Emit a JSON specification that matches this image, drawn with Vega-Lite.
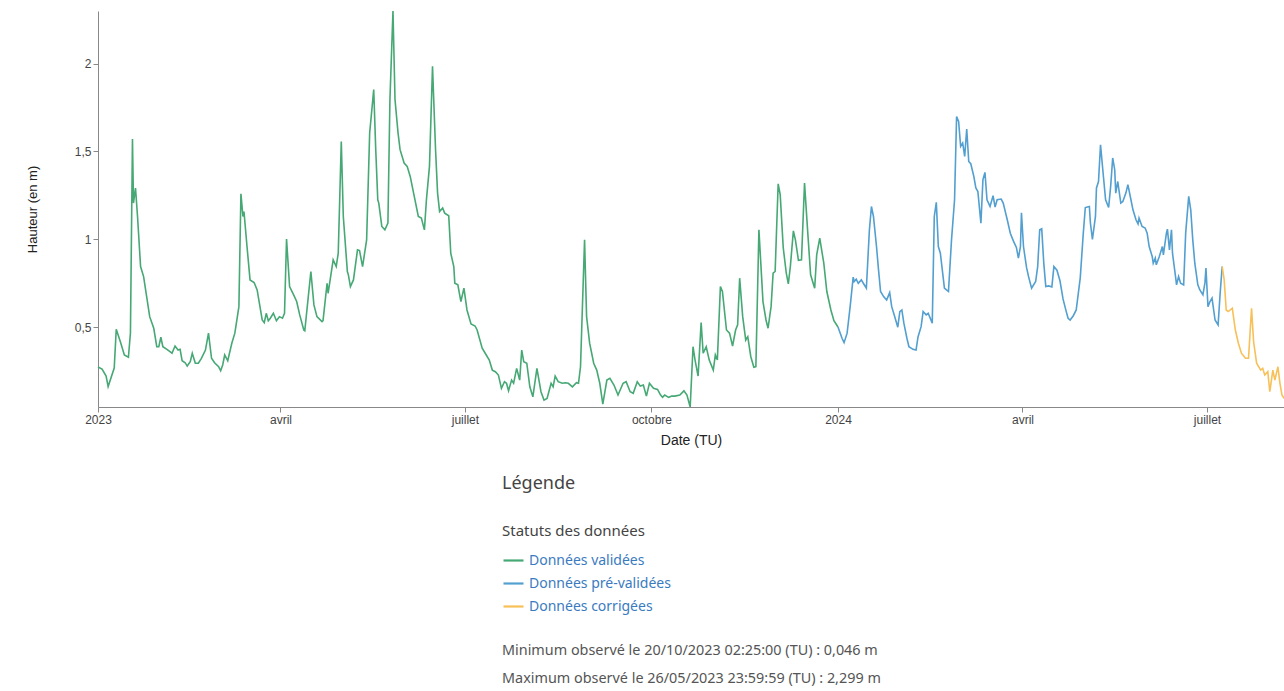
{
"$schema": "https://vega.github.io/schema/vega-lite/v6.json",
"width": 1186,
"height": 396,
"autosize": {"type": "none"},
"padding": {"left": 98, "top": 11, "right": 0, "bottom": 284},
"background": "white",
"config": {
  "locale": {
    "number": {"decimal": ",", "thousands": " ", "grouping": [3], "currency": ["", " €"]},
    "time": {
      "dateTime": "%A %e %B %Y à %X", "date": "%d/%m/%Y", "time": "%H:%M:%S", "periods": ["AM", "PM"],
      "days": ["dimanche","lundi","mardi","mercredi","jeudi","vendredi","samedi"],
      "shortDays": ["dim.","lun.","mar.","mer.","jeu.","ven.","sam."],
      "months": ["janvier","février","mars","avril","mai","juin","juillet","août","septembre","octobre","novembre","décembre"],
      "shortMonths": ["janv.","févr.","mars","avr.","mai","juin","juil.","août","sept.","oct.","nov.","déc."]
    }
  },
  "view": {"stroke": null},
  "axis": {"grid": false, "domainColor": "#888", "tickColor": "#888", "tickSize": 5, "labelFont": "Liberation Sans", "labelFontSize": 12, "labelColor": "#444", "titleFont": "Liberation Sans", "titleFontWeight": "normal", "titleColor": "#222"}
},
"title": {
  "text": "Légende",
  "subtitle": ["Minimum observé le 20/10/2023 02:25:00 (TU) : 0,046 m", "Maximum observé le 26/05/2023 23:59:59 (TU) : 2,299 m"],
  "orient": "bottom", "anchor": "start", "frame": "group", "dx": 404, "offset": -139,
  "font": "Noto Sans", "fontSize": 18, "fontWeight": "normal", "color": "#444",
  "subtitleFont": "Noto Sans", "subtitleFontSize": 14.4, "subtitleColor": "#555", "subtitleLineHeight": 28, "subtitlePadding": 151
},
"data": {"values": [
{"d":"2023-01-01T00:00","h":0.274,"s":"Données validées"},
{"d":"2023-01-03T00:00","h":0.262,"s":"Données validées"},
{"d":"2023-01-05T00:00","h":0.222,"s":"Données validées"},
{"d":"2023-01-06T00:00","h":0.162,"s":"Données validées"},
{"d":"2023-01-09T00:00","h":0.268,"s":"Données validées"},
{"d":"2023-01-10T00:00","h":0.488,"s":"Données validées"},
{"d":"2023-01-12T00:00","h":0.418,"s":"Données validées"},
{"d":"2023-01-14T00:00","h":0.342,"s":"Données validées"},
{"d":"2023-01-16T00:00","h":0.329,"s":"Données validées"},
{"d":"2023-01-17T00:00","h":0.467,"s":"Données validées"},
{"d":"2023-01-18T00:00","h":1.571,"s":"Données validées"},
{"d":"2023-01-18T12:00","h":1.206,"s":"Données validées"},
{"d":"2023-01-19T12:00","h":1.292,"s":"Données validées"},
{"d":"2023-01-20T12:00","h":1.130,"s":"Données validées"},
{"d":"2023-01-22T00:00","h":0.845,"s":"Données validées"},
{"d":"2023-01-23T12:00","h":0.788,"s":"Données validées"},
{"d":"2023-01-24T00:00","h":0.750,"s":"Données validées"},
{"d":"2023-01-25T00:00","h":0.674,"s":"Données validées"},
{"d":"2023-01-26T12:00","h":0.560,"s":"Données validées"},
{"d":"2023-01-28T12:00","h":0.494,"s":"Données validées"},
{"d":"2023-01-30T00:00","h":0.389,"s":"Données validées"},
{"d":"2023-01-31T00:00","h":0.389,"s":"Données validées"},
{"d":"2023-02-01T00:00","h":0.443,"s":"Données validées"},
{"d":"2023-02-02T00:00","h":0.389,"s":"Données validées"},
{"d":"2023-02-04T00:00","h":0.374,"s":"Données validées"},
{"d":"2023-02-05T12:00","h":0.361,"s":"Données validées"},
{"d":"2023-02-06T12:00","h":0.352,"s":"Données validées"},
{"d":"2023-02-08T00:00","h":0.393,"s":"Données validées"},
{"d":"2023-02-09T12:00","h":0.370,"s":"Données validées"},
{"d":"2023-02-10T12:00","h":0.374,"s":"Données validées"},
{"d":"2023-02-11T12:00","h":0.309,"s":"Données validées"},
{"d":"2023-02-13T00:00","h":0.298,"s":"Données validées"},
{"d":"2023-02-14T00:00","h":0.279,"s":"Données validées"},
{"d":"2023-02-15T12:00","h":0.304,"s":"Données validées"},
{"d":"2023-02-16T12:00","h":0.352,"s":"Données validées"},
{"d":"2023-02-18T00:00","h":0.295,"s":"Données validées"},
{"d":"2023-02-19T12:00","h":0.295,"s":"Données validées"},
{"d":"2023-02-21T00:00","h":0.323,"s":"Données validées"},
{"d":"2023-02-23T00:00","h":0.370,"s":"Données validées"},
{"d":"2023-02-24T12:00","h":0.466,"s":"Données validées"},
{"d":"2023-02-26T00:00","h":0.323,"s":"Données validées"},
{"d":"2023-02-27T12:00","h":0.298,"s":"Données validées"},
{"d":"2023-03-01T12:00","h":0.275,"s":"Données validées"},
{"d":"2023-03-02T12:00","h":0.252,"s":"Données validées"},
{"d":"2023-03-03T12:00","h":0.285,"s":"Données validées"},
{"d":"2023-03-04T12:00","h":0.342,"s":"Données validées"},
{"d":"2023-03-06T00:00","h":0.309,"s":"Données validées"},
{"d":"2023-03-08T00:00","h":0.409,"s":"Données validées"},
{"d":"2023-03-09T12:00","h":0.466,"s":"Données validées"},
{"d":"2023-03-11T12:00","h":0.617,"s":"Données validées"},
{"d":"2023-03-12T12:00","h":1.259,"s":"Données validées"},
{"d":"2023-03-13T12:00","h":1.130,"s":"Données validées"},
{"d":"2023-03-14T00:00","h":1.158,"s":"Données validées"},
{"d":"2023-03-15T12:00","h":0.959,"s":"Données validées"},
{"d":"2023-03-17T00:00","h":0.769,"s":"Données validées"},
{"d":"2023-03-19T00:00","h":0.754,"s":"Données validées"},
{"d":"2023-03-20T12:00","h":0.712,"s":"Données validées"},
{"d":"2023-03-23T00:00","h":0.541,"s":"Données validées"},
{"d":"2023-03-24T00:00","h":0.526,"s":"Données validées"},
{"d":"2023-03-25T00:00","h":0.579,"s":"Données validées"},
{"d":"2023-03-26T00:00","h":0.537,"s":"Données validées"},
{"d":"2023-03-27T00:00","h":0.551,"s":"Données validées"},
{"d":"2023-03-28T12:00","h":0.579,"s":"Données validées"},
{"d":"2023-03-30T00:00","h":0.537,"s":"Données validées"},
{"d":"2023-03-31T12:00","h":0.560,"s":"Données validées"},
{"d":"2023-04-02T00:00","h":0.551,"s":"Données validées"},
{"d":"2023-04-03T00:00","h":0.579,"s":"Données validées"},
{"d":"2023-04-04T00:00","h":1.001,"s":"Données validées"},
{"d":"2023-04-05T12:00","h":0.731,"s":"Données validées"},
{"d":"2023-04-07T12:00","h":0.684,"s":"Données validées"},
{"d":"2023-04-09T00:00","h":0.646,"s":"Données validées"},
{"d":"2023-04-10T12:00","h":0.570,"s":"Données validées"},
{"d":"2023-04-12T12:00","h":0.484,"s":"Données validées"},
{"d":"2023-04-13T00:00","h":0.480,"s":"Données validées"},
{"d":"2023-04-16T00:00","h":0.817,"s":"Données validées"},
{"d":"2023-04-17T12:00","h":0.627,"s":"Données validées"},
{"d":"2023-04-19T00:00","h":0.560,"s":"Données validées"},
{"d":"2023-04-21T12:00","h":0.532,"s":"Données validées"},
{"d":"2023-04-22T00:00","h":0.537,"s":"Données validées"},
{"d":"2023-04-24T00:00","h":0.750,"s":"Données validées"},
{"d":"2023-04-24T12:00","h":0.693,"s":"Données validées"},
{"d":"2023-04-27T00:00","h":0.883,"s":"Données validées"},
{"d":"2023-04-28T12:00","h":0.845,"s":"Données validées"},
{"d":"2023-04-29T12:00","h":0.921,"s":"Données validées"},
{"d":"2023-05-01T00:00","h":1.557,"s":"Données validées"},
{"d":"2023-05-02T00:00","h":1.130,"s":"Données validées"},
{"d":"2023-05-04T00:00","h":0.817,"s":"Données validées"},
{"d":"2023-05-04T12:00","h":0.798,"s":"Données validées"},
{"d":"2023-05-05T12:00","h":0.731,"s":"Données validées"},
{"d":"2023-05-07T00:00","h":0.769,"s":"Données validées"},
{"d":"2023-05-09T00:00","h":0.940,"s":"Données validées"},
{"d":"2023-05-10T00:00","h":0.936,"s":"Données validées"},
{"d":"2023-05-11T12:00","h":0.845,"s":"Données validées"},
{"d":"2023-05-13T12:00","h":0.997,"s":"Données validées"},
{"d":"2023-05-15T00:00","h":1.605,"s":"Données validées"},
{"d":"2023-05-17T00:00","h":1.852,"s":"Données validées"},
{"d":"2023-05-18T00:00","h":1.510,"s":"Données validées"},
{"d":"2023-05-19T00:00","h":1.225,"s":"Données validées"},
{"d":"2023-05-19T12:00","h":1.206,"s":"Données validées"},
{"d":"2023-05-21T00:00","h":1.073,"s":"Données validées"},
{"d":"2023-05-22T12:00","h":1.054,"s":"Données validées"},
{"d":"2023-05-24T00:00","h":1.092,"s":"Données validées"},
{"d":"2023-05-25T00:00","h":1.795,"s":"Données validées"},
{"d":"2023-05-26T12:00","h":2.299,"s":"Données validées"},
{"d":"2023-05-27T12:00","h":1.795,"s":"Données validées"},
{"d":"2023-05-29T00:00","h":1.605,"s":"Données validées"},
{"d":"2023-05-30T00:00","h":1.510,"s":"Données validées"},
{"d":"2023-06-01T00:00","h":1.434,"s":"Données validées"},
{"d":"2023-06-02T12:00","h":1.415,"s":"Données validées"},
{"d":"2023-06-04T00:00","h":1.358,"s":"Données validées"},
{"d":"2023-06-06T00:00","h":1.244,"s":"Données validées"},
{"d":"2023-06-08T00:00","h":1.130,"s":"Données validées"},
{"d":"2023-06-09T12:00","h":1.121,"s":"Données validées"},
{"d":"2023-06-11T00:00","h":1.054,"s":"Données validées"},
{"d":"2023-06-12T00:00","h":1.225,"s":"Données validées"},
{"d":"2023-06-13T12:00","h":1.415,"s":"Données validées"},
{"d":"2023-06-15T00:00","h":1.985,"s":"Données validées"},
{"d":"2023-06-16T12:00","h":1.510,"s":"Données validées"},
{"d":"2023-06-17T12:00","h":1.263,"s":"Données validées"},
{"d":"2023-06-18T12:00","h":1.158,"s":"Données validées"},
{"d":"2023-06-20T00:00","h":1.178,"s":"Données validées"},
{"d":"2023-06-21T00:00","h":1.149,"s":"Données validées"},
{"d":"2023-06-23T00:00","h":1.134,"s":"Données validées"},
{"d":"2023-06-24T00:00","h":0.921,"s":"Données validées"},
{"d":"2023-06-25T12:00","h":0.845,"s":"Données validées"},
{"d":"2023-06-26T00:00","h":0.750,"s":"Données validées"},
{"d":"2023-06-27T12:00","h":0.741,"s":"Données validées"},
{"d":"2023-06-29T00:00","h":0.646,"s":"Données validées"},
{"d":"2023-06-30T12:00","h":0.722,"s":"Données validées"},
{"d":"2023-07-02T00:00","h":0.598,"s":"Données validées"},
{"d":"2023-07-04T00:00","h":0.519,"s":"Données validées"},
{"d":"2023-07-06T00:00","h":0.507,"s":"Données validées"},
{"d":"2023-07-07T00:00","h":0.484,"s":"Données validées"},
{"d":"2023-07-09T12:00","h":0.380,"s":"Données validées"},
{"d":"2023-07-11T00:00","h":0.352,"s":"Données validées"},
{"d":"2023-07-13T00:00","h":0.313,"s":"Données validées"},
{"d":"2023-07-14T12:00","h":0.256,"s":"Données validées"},
{"d":"2023-07-16T00:00","h":0.247,"s":"Données validées"},
{"d":"2023-07-17T12:00","h":0.228,"s":"Données validées"},
{"d":"2023-07-19T00:00","h":0.152,"s":"Données validées"},
{"d":"2023-07-20T12:00","h":0.190,"s":"Données validées"},
{"d":"2023-07-21T12:00","h":0.181,"s":"Données validées"},
{"d":"2023-07-22T12:00","h":0.138,"s":"Données validées"},
{"d":"2023-07-24T00:00","h":0.199,"s":"Données validées"},
{"d":"2023-07-25T00:00","h":0.181,"s":"Données validées"},
{"d":"2023-07-26T12:00","h":0.266,"s":"Données validées"},
{"d":"2023-07-28T00:00","h":0.199,"s":"Données validées"},
{"d":"2023-07-29T00:00","h":0.370,"s":"Données validées"},
{"d":"2023-07-30T00:00","h":0.304,"s":"Données validées"},
{"d":"2023-07-31T12:00","h":0.295,"s":"Données validées"},
{"d":"2023-08-02T00:00","h":0.161,"s":"Données validées"},
{"d":"2023-08-03T12:00","h":0.104,"s":"Données validées"},
{"d":"2023-08-05T12:00","h":0.266,"s":"Données validées"},
{"d":"2023-08-07T12:00","h":0.133,"s":"Données validées"},
{"d":"2023-08-09T00:00","h":0.085,"s":"Données validées"},
{"d":"2023-08-10T12:00","h":0.095,"s":"Données validées"},
{"d":"2023-08-12T12:00","h":0.181,"s":"Données validées"},
{"d":"2023-08-13T12:00","h":0.161,"s":"Données validées"},
{"d":"2023-08-14T12:00","h":0.222,"s":"Données validées"},
{"d":"2023-08-16T00:00","h":0.190,"s":"Données validées"},
{"d":"2023-08-18T00:00","h":0.181,"s":"Données validées"},
{"d":"2023-08-19T12:00","h":0.184,"s":"Données validées"},
{"d":"2023-08-21T00:00","h":0.181,"s":"Données validées"},
{"d":"2023-08-23T00:00","h":0.161,"s":"Données validées"},
{"d":"2023-08-25T00:00","h":0.184,"s":"Données validées"},
{"d":"2023-08-26T00:00","h":0.181,"s":"Données validées"},
{"d":"2023-08-27T00:00","h":0.275,"s":"Données validées"},
{"d":"2023-08-29T00:00","h":0.997,"s":"Données validées"},
{"d":"2023-08-30T00:00","h":0.560,"s":"Données validées"},
{"d":"2023-08-31T12:00","h":0.409,"s":"Données validées"},
{"d":"2023-09-02T12:00","h":0.295,"s":"Données validées"},
{"d":"2023-09-04T00:00","h":0.256,"s":"Données validées"},
{"d":"2023-09-05T12:00","h":0.181,"s":"Données validées"},
{"d":"2023-09-07T00:00","h":0.063,"s":"Données validées"},
{"d":"2023-09-09T00:00","h":0.199,"s":"Données validées"},
{"d":"2023-09-10T12:00","h":0.209,"s":"Données validées"},
{"d":"2023-09-12T12:00","h":0.171,"s":"Données validées"},
{"d":"2023-09-14T12:00","h":0.114,"s":"Données validées"},
{"d":"2023-09-17T00:00","h":0.181,"s":"Données validées"},
{"d":"2023-09-18T12:00","h":0.190,"s":"Données validées"},
{"d":"2023-09-20T12:00","h":0.133,"s":"Données validées"},
{"d":"2023-09-22T00:00","h":0.124,"s":"Données validées"},
{"d":"2023-09-24T00:00","h":0.190,"s":"Données validées"},
{"d":"2023-09-25T12:00","h":0.165,"s":"Données validées"},
{"d":"2023-09-27T00:00","h":0.171,"s":"Données validées"},
{"d":"2023-09-28T12:00","h":0.108,"s":"Données validées"},
{"d":"2023-09-30T00:00","h":0.181,"s":"Données validées"},
{"d":"2023-10-02T00:00","h":0.152,"s":"Données validées"},
{"d":"2023-10-04T00:00","h":0.146,"s":"Données validées"},
{"d":"2023-10-05T12:00","h":0.114,"s":"Données validées"},
{"d":"2023-10-06T12:00","h":0.101,"s":"Données validées"},
{"d":"2023-10-07T12:00","h":0.114,"s":"Données validées"},
{"d":"2023-10-09T12:00","h":0.101,"s":"Données validées"},
{"d":"2023-10-11T00:00","h":0.108,"s":"Données validées"},
{"d":"2023-10-12T12:00","h":0.108,"s":"Données validées"},
{"d":"2023-10-15T00:00","h":0.114,"s":"Données validées"},
{"d":"2023-10-17T00:00","h":0.138,"s":"Données validées"},
{"d":"2023-10-18T12:00","h":0.114,"s":"Données validées"},
{"d":"2023-10-20T02:25","h":0.046,"s":"Données validées"},
{"d":"2023-10-21T12:00","h":0.389,"s":"Données validées"},
{"d":"2023-10-22T12:00","h":0.313,"s":"Données validées"},
{"d":"2023-10-24T00:00","h":0.222,"s":"Données validées"},
{"d":"2023-10-25T12:00","h":0.526,"s":"Données validées"},
{"d":"2023-10-26T12:00","h":0.352,"s":"Données validées"},
{"d":"2023-10-28T00:00","h":0.389,"s":"Données validées"},
{"d":"2023-10-29T12:00","h":0.313,"s":"Données validées"},
{"d":"2023-10-31T12:00","h":0.256,"s":"Données validées"},
{"d":"2023-11-01T12:00","h":0.342,"s":"Données validées"},
{"d":"2023-11-02T12:00","h":0.313,"s":"Données validées"},
{"d":"2023-11-04T00:00","h":0.731,"s":"Données validées"},
{"d":"2023-11-05T00:00","h":0.703,"s":"Données validées"},
{"d":"2023-11-07T00:00","h":0.484,"s":"Données validées"},
{"d":"2023-11-08T12:00","h":0.466,"s":"Données validées"},
{"d":"2023-11-10T00:00","h":0.393,"s":"Données validées"},
{"d":"2023-11-11T12:00","h":0.484,"s":"Données validées"},
{"d":"2023-11-12T12:00","h":0.513,"s":"Données validées"},
{"d":"2023-11-13T12:00","h":0.779,"s":"Données validées"},
{"d":"2023-11-15T00:00","h":0.560,"s":"Données validées"},
{"d":"2023-11-16T12:00","h":0.427,"s":"Données validées"},
{"d":"2023-11-17T12:00","h":0.446,"s":"Données validées"},
{"d":"2023-11-19T00:00","h":0.332,"s":"Données validées"},
{"d":"2023-11-20T12:00","h":0.272,"s":"Données validées"},
{"d":"2023-11-21T12:00","h":0.275,"s":"Données validées"},
{"d":"2023-11-23T00:00","h":1.054,"s":"Données validées"},
{"d":"2023-11-25T00:00","h":0.646,"s":"Données validées"},
{"d":"2023-11-26T12:00","h":0.541,"s":"Données validées"},
{"d":"2023-11-27T12:00","h":0.494,"s":"Données validées"},
{"d":"2023-11-29T00:00","h":0.617,"s":"Données validées"},
{"d":"2023-11-30T00:00","h":0.807,"s":"Données validées"},
{"d":"2023-12-01T00:00","h":0.817,"s":"Données validées"},
{"d":"2023-12-02T12:00","h":1.316,"s":"Données validées"},
{"d":"2023-12-03T12:00","h":1.254,"s":"Données validées"},
{"d":"2023-12-05T00:00","h":0.952,"s":"Données validées"},
{"d":"2023-12-06T12:00","h":0.807,"s":"Données validées"},
{"d":"2023-12-07T12:00","h":0.746,"s":"Données validées"},
{"d":"2023-12-08T12:00","h":0.845,"s":"Données validées"},
{"d":"2023-12-10T00:00","h":1.048,"s":"Données validées"},
{"d":"2023-12-11T00:00","h":0.997,"s":"Données validées"},
{"d":"2023-12-12T12:00","h":0.880,"s":"Données validées"},
{"d":"2023-12-14T00:00","h":0.883,"s":"Données validées"},
{"d":"2023-12-15T12:00","h":1.320,"s":"Données validées"},
{"d":"2023-12-17T00:00","h":1.054,"s":"Données validées"},
{"d":"2023-12-18T12:00","h":0.798,"s":"Données validées"},
{"d":"2023-12-20T12:00","h":0.722,"s":"Données validées"},
{"d":"2023-12-21T12:00","h":0.912,"s":"Données validées"},
{"d":"2023-12-23T00:00","h":1.007,"s":"Données validées"},
{"d":"2023-12-25T00:00","h":0.864,"s":"Données validées"},
{"d":"2023-12-26T12:00","h":0.703,"s":"Données validées"},
{"d":"2023-12-28T12:00","h":0.598,"s":"Données validées"},
{"d":"2023-12-30T00:00","h":0.537,"s":"Données validées"},
{"d":"2024-01-01T00:00","h":0.501,"s":"Données validées"},
{"d":"2024-01-01T00:00","h":0.501,"s":"Données pré-validées"},
{"d":"2024-01-03T00:00","h":0.437,"s":"Données pré-validées"},
{"d":"2024-01-04T00:00","h":0.412,"s":"Données pré-validées"},
{"d":"2024-01-05T12:00","h":0.466,"s":"Données pré-validées"},
{"d":"2024-01-07T00:00","h":0.617,"s":"Données pré-validées"},
{"d":"2024-01-08T12:00","h":0.785,"s":"Données pré-validées"},
{"d":"2024-01-09T00:00","h":0.760,"s":"Données pré-validées"},
{"d":"2024-01-10T00:00","h":0.773,"s":"Données pré-validées"},
{"d":"2024-01-11T00:00","h":0.750,"s":"Données pré-validées"},
{"d":"2024-01-12T12:00","h":0.769,"s":"Données pré-validées"},
{"d":"2024-01-13T12:00","h":0.750,"s":"Données pré-validées"},
{"d":"2024-01-15T00:00","h":0.722,"s":"Données pré-validées"},
{"d":"2024-01-16T12:00","h":1.054,"s":"Données pré-validées"},
{"d":"2024-01-17T12:00","h":1.187,"s":"Données pré-validées"},
{"d":"2024-01-18T12:00","h":1.130,"s":"Données pré-validées"},
{"d":"2024-01-20T00:00","h":0.959,"s":"Données pré-validées"},
{"d":"2024-01-21T00:00","h":0.826,"s":"Données pré-validées"},
{"d":"2024-01-22T00:00","h":0.703,"s":"Données pré-validées"},
{"d":"2024-01-23T12:00","h":0.674,"s":"Données pré-validées"},
{"d":"2024-01-25T00:00","h":0.655,"s":"Données pré-validées"},
{"d":"2024-01-26T12:00","h":0.697,"s":"Données pré-validées"},
{"d":"2024-01-27T12:00","h":0.617,"s":"Données pré-validées"},
{"d":"2024-01-29T00:00","h":0.560,"s":"Données pré-validées"},
{"d":"2024-01-30T12:00","h":0.500,"s":"Données pré-validées"},
{"d":"2024-01-31T12:00","h":0.589,"s":"Données pré-validées"},
{"d":"2024-02-01T12:00","h":0.598,"s":"Données pré-validées"},
{"d":"2024-02-02T12:00","h":0.523,"s":"Données pré-validées"},
{"d":"2024-02-04T00:00","h":0.437,"s":"Données pré-validées"},
{"d":"2024-02-05T00:00","h":0.389,"s":"Données pré-validées"},
{"d":"2024-02-07T00:00","h":0.374,"s":"Données pré-validées"},
{"d":"2024-02-08T12:00","h":0.370,"s":"Données pré-validées"},
{"d":"2024-02-09T12:00","h":0.446,"s":"Données pré-validées"},
{"d":"2024-02-11T00:00","h":0.503,"s":"Données pré-validées"},
{"d":"2024-02-12T00:00","h":0.589,"s":"Données pré-validées"},
{"d":"2024-02-13T12:00","h":0.570,"s":"Données pré-validées"},
{"d":"2024-02-14T12:00","h":0.579,"s":"Données pré-validées"},
{"d":"2024-02-16T12:00","h":0.523,"s":"Données pré-validées"},
{"d":"2024-02-17T12:00","h":1.130,"s":"Données pré-validées"},
{"d":"2024-02-18T12:00","h":1.210,"s":"Données pré-validées"},
{"d":"2024-02-19T12:00","h":0.959,"s":"Données pré-validées"},
{"d":"2024-02-20T12:00","h":0.921,"s":"Données pré-validées"},
{"d":"2024-02-22T12:00","h":0.722,"s":"Données pré-validées"},
{"d":"2024-02-23T12:00","h":0.712,"s":"Données pré-validées"},
{"d":"2024-02-24T12:00","h":0.703,"s":"Données pré-validées"},
{"d":"2024-02-26T00:00","h":0.997,"s":"Données pré-validées"},
{"d":"2024-02-27T12:00","h":1.225,"s":"Données pré-validées"},
{"d":"2024-02-28T12:00","h":1.698,"s":"Données pré-validées"},
{"d":"2024-02-29T12:00","h":1.671,"s":"Données pré-validées"},
{"d":"2024-03-01T12:00","h":1.529,"s":"Données pré-validées"},
{"d":"2024-03-02T12:00","h":1.548,"s":"Données pré-validées"},
{"d":"2024-03-03T12:00","h":1.472,"s":"Données pré-validées"},
{"d":"2024-03-04T12:00","h":1.628,"s":"Données pré-validées"},
{"d":"2024-03-05T12:00","h":1.443,"s":"Données pré-validées"},
{"d":"2024-03-06T12:00","h":1.430,"s":"Données pré-validées"},
{"d":"2024-03-08T00:00","h":1.358,"s":"Données pré-validées"},
{"d":"2024-03-09T00:00","h":1.292,"s":"Données pré-validées"},
{"d":"2024-03-10T00:00","h":1.272,"s":"Données pré-validées"},
{"d":"2024-03-11T12:00","h":1.092,"s":"Données pré-validées"},
{"d":"2024-03-12T12:00","h":1.339,"s":"Données pré-validées"},
{"d":"2024-03-13T12:00","h":1.381,"s":"Données pré-validées"},
{"d":"2024-03-14T12:00","h":1.225,"s":"Données pré-validées"},
{"d":"2024-03-16T00:00","h":1.187,"s":"Données pré-validées"},
{"d":"2024-03-17T12:00","h":1.248,"s":"Données pré-validées"},
{"d":"2024-03-18T12:00","h":1.183,"s":"Données pré-validées"},
{"d":"2024-03-19T12:00","h":1.225,"s":"Données pré-validées"},
{"d":"2024-03-21T12:00","h":1.229,"s":"Données pré-validées"},
{"d":"2024-03-22T12:00","h":1.206,"s":"Données pré-validées"},
{"d":"2024-03-24T12:00","h":1.111,"s":"Données pré-validées"},
{"d":"2024-03-26T00:00","h":1.035,"s":"Données pré-validées"},
{"d":"2024-03-27T12:00","h":0.991,"s":"Données pré-validées"},
{"d":"2024-03-29T00:00","h":0.954,"s":"Données pré-validées"},
{"d":"2024-03-30T00:00","h":0.893,"s":"Données pré-validées"},
{"d":"2024-03-31T00:00","h":0.959,"s":"Données pré-validées"},
{"d":"2024-03-31T12:00","h":1.151,"s":"Données pré-validées"},
{"d":"2024-04-01T12:00","h":0.959,"s":"Données pré-validées"},
{"d":"2024-04-03T00:00","h":0.840,"s":"Données pré-validées"},
{"d":"2024-04-04T00:00","h":0.788,"s":"Données pré-validées"},
{"d":"2024-04-05T12:00","h":0.722,"s":"Données pré-validées"},
{"d":"2024-04-07T12:00","h":0.760,"s":"Données pré-validées"},
{"d":"2024-04-08T12:00","h":0.845,"s":"Données pré-validées"},
{"d":"2024-04-09T12:00","h":1.054,"s":"Données pré-validées"},
{"d":"2024-04-10T12:00","h":1.060,"s":"Données pré-validées"},
{"d":"2024-04-11T12:00","h":0.866,"s":"Données pré-validées"},
{"d":"2024-04-12T12:00","h":0.731,"s":"Données pré-validées"},
{"d":"2024-04-14T00:00","h":0.735,"s":"Données pré-validées"},
{"d":"2024-04-15T12:00","h":0.729,"s":"Données pré-validées"},
{"d":"2024-04-16T12:00","h":0.845,"s":"Données pré-validées"},
{"d":"2024-04-18T00:00","h":0.824,"s":"Données pré-validées"},
{"d":"2024-04-19T12:00","h":0.764,"s":"Données pré-validées"},
{"d":"2024-04-21T00:00","h":0.661,"s":"Données pré-validées"},
{"d":"2024-04-22T12:00","h":0.593,"s":"Données pré-validées"},
{"d":"2024-04-23T12:00","h":0.551,"s":"Données pré-validées"},
{"d":"2024-04-24T12:00","h":0.541,"s":"Données pré-validées"},
{"d":"2024-04-26T00:00","h":0.564,"s":"Données pré-validées"},
{"d":"2024-04-27T12:00","h":0.598,"s":"Données pré-validées"},
{"d":"2024-04-29T12:00","h":0.781,"s":"Données pré-validées"},
{"d":"2024-05-01T00:00","h":1.035,"s":"Données pré-validées"},
{"d":"2024-05-02T00:00","h":1.181,"s":"Données pré-validées"},
{"d":"2024-05-04T00:00","h":1.187,"s":"Données pré-validées"},
{"d":"2024-05-04T12:00","h":1.094,"s":"Données pré-validées"},
{"d":"2024-05-05T12:00","h":1.000,"s":"Données pré-validées"},
{"d":"2024-05-07T00:00","h":1.130,"s":"Données pré-validées"},
{"d":"2024-05-07T12:00","h":1.292,"s":"Données pré-validées"},
{"d":"2024-05-08T12:00","h":1.329,"s":"Données pré-validées"},
{"d":"2024-05-09T12:00","h":1.538,"s":"Données pré-validées"},
{"d":"2024-05-11T00:00","h":1.349,"s":"Données pré-validées"},
{"d":"2024-05-12T00:00","h":1.225,"s":"Données pré-validées"},
{"d":"2024-05-13T12:00","h":1.182,"s":"Données pré-validées"},
{"d":"2024-05-14T12:00","h":1.301,"s":"Données pré-validées"},
{"d":"2024-05-15T12:00","h":1.463,"s":"Données pré-validées"},
{"d":"2024-05-16T12:00","h":1.396,"s":"Données pré-validées"},
{"d":"2024-05-17T00:00","h":1.263,"s":"Données pré-validées"},
{"d":"2024-05-18T00:00","h":1.329,"s":"Données pré-validées"},
{"d":"2024-05-19T12:00","h":1.206,"s":"Données pré-validées"},
{"d":"2024-05-20T12:00","h":1.215,"s":"Données pré-validées"},
{"d":"2024-05-22T00:00","h":1.263,"s":"Données pré-validées"},
{"d":"2024-05-23T00:00","h":1.311,"s":"Données pré-validées"},
{"d":"2024-05-24T12:00","h":1.225,"s":"Données pré-validées"},
{"d":"2024-05-25T12:00","h":1.168,"s":"Données pré-validées"},
{"d":"2024-05-27T00:00","h":1.111,"s":"Données pré-validées"},
{"d":"2024-05-28T00:00","h":1.088,"s":"Données pré-validées"},
{"d":"2024-05-28T12:00","h":1.121,"s":"Données pré-validées"},
{"d":"2024-05-30T00:00","h":1.073,"s":"Données pré-validées"},
{"d":"2024-05-31T12:00","h":1.064,"s":"Données pré-validées"},
{"d":"2024-06-01T12:00","h":1.035,"s":"Données pré-validées"},
{"d":"2024-06-02T12:00","h":0.959,"s":"Données pré-validées"},
{"d":"2024-06-04T00:00","h":0.902,"s":"Données pré-validées"},
{"d":"2024-06-04T12:00","h":0.864,"s":"Données pré-validées"},
{"d":"2024-06-05T12:00","h":0.893,"s":"Données pré-validées"},
{"d":"2024-06-06T00:00","h":0.855,"s":"Données pré-validées"},
{"d":"2024-06-07T12:00","h":0.902,"s":"Données pré-validées"},
{"d":"2024-06-09T00:00","h":0.959,"s":"Données pré-validées"},
{"d":"2024-06-09T12:00","h":0.912,"s":"Données pré-validées"},
{"d":"2024-06-11T00:00","h":1.035,"s":"Données pré-validées"},
{"d":"2024-06-11T12:00","h":1.058,"s":"Données pré-validées"},
{"d":"2024-06-12T12:00","h":0.940,"s":"Données pré-validées"},
{"d":"2024-06-13T12:00","h":1.054,"s":"Données pré-validées"},
{"d":"2024-06-14T00:00","h":0.921,"s":"Données pré-validées"},
{"d":"2024-06-15T12:00","h":0.788,"s":"Données pré-validées"},
{"d":"2024-06-16T00:00","h":0.741,"s":"Données pré-validées"},
{"d":"2024-06-17T00:00","h":0.788,"s":"Données pré-validées"},
{"d":"2024-06-18T00:00","h":0.750,"s":"Données pré-validées"},
{"d":"2024-06-19T12:00","h":0.741,"s":"Données pré-validées"},
{"d":"2024-06-20T12:00","h":1.035,"s":"Données pré-validées"},
{"d":"2024-06-22T00:00","h":1.244,"s":"Données pré-validées"},
{"d":"2024-06-23T00:00","h":1.168,"s":"Données pré-validées"},
{"d":"2024-06-24T00:00","h":0.997,"s":"Données pré-validées"},
{"d":"2024-06-25T00:00","h":0.864,"s":"Données pré-validées"},
{"d":"2024-06-26T12:00","h":0.741,"s":"Données pré-validées"},
{"d":"2024-06-27T12:00","h":0.712,"s":"Données pré-validées"},
{"d":"2024-06-29T00:00","h":0.684,"s":"Données pré-validées"},
{"d":"2024-06-30T00:00","h":0.752,"s":"Données pré-validées"},
{"d":"2024-06-30T12:00","h":0.836,"s":"Données pré-validées"},
{"d":"2024-07-01T12:00","h":0.617,"s":"Données pré-validées"},
{"d":"2024-07-02T12:00","h":0.646,"s":"Données pré-validées"},
{"d":"2024-07-03T12:00","h":0.665,"s":"Données pré-validées"},
{"d":"2024-07-05T00:00","h":0.541,"s":"Données pré-validées"},
{"d":"2024-07-06T12:00","h":0.513,"s":"Données pré-validées"},
{"d":"2024-07-07T12:00","h":0.693,"s":"Données pré-validées"},
{"d":"2024-07-08T12:00","h":0.845,"s":"Données pré-validées"},
{"d":"2024-07-08T12:00","h":0.845,"s":"Données corrigées"},
{"d":"2024-07-09T12:00","h":0.769,"s":"Données corrigées"},
{"d":"2024-07-10T12:00","h":0.598,"s":"Données corrigées"},
{"d":"2024-07-11T12:00","h":0.589,"s":"Données corrigées"},
{"d":"2024-07-13T12:00","h":0.608,"s":"Données corrigées"},
{"d":"2024-07-15T00:00","h":0.484,"s":"Données corrigées"},
{"d":"2024-07-16T12:00","h":0.409,"s":"Données corrigées"},
{"d":"2024-07-18T00:00","h":0.352,"s":"Données corrigées"},
{"d":"2024-07-20T00:00","h":0.323,"s":"Données corrigées"},
{"d":"2024-07-21T12:00","h":0.323,"s":"Données corrigées"},
{"d":"2024-07-23T00:00","h":0.608,"s":"Données corrigées"},
{"d":"2024-07-24T00:00","h":0.418,"s":"Données corrigées"},
{"d":"2024-07-25T12:00","h":0.295,"s":"Données corrigées"},
{"d":"2024-07-27T12:00","h":0.256,"s":"Données corrigées"},
{"d":"2024-07-28T12:00","h":0.266,"s":"Données corrigées"},
{"d":"2024-07-29T12:00","h":0.228,"s":"Données corrigées"},
{"d":"2024-07-31T00:00","h":0.247,"s":"Données corrigées"},
{"d":"2024-08-01T00:00","h":0.133,"s":"Données corrigées"},
{"d":"2024-08-02T12:00","h":0.256,"s":"Données corrigées"},
{"d":"2024-08-03T12:00","h":0.199,"s":"Données corrigées"},
{"d":"2024-08-05T00:00","h":0.275,"s":"Données corrigées"},
{"d":"2024-08-06T00:00","h":0.181,"s":"Données corrigées"},
{"d":"2024-08-07T00:00","h":0.114,"s":"Données corrigées"},
{"d":"2024-08-08T00:00","h":0.095,"s":"Données corrigées"}
]},
"mark": {"type": "line", "strokeWidth": 1.6},
"encoding": {
  "x": {
    "field": "d", "type": "temporal",
    "scale": {"domain": [{"year": 2023, "month": 1, "date": 1}, {"year": 2024, "month": 8, "date": 8}]},
    "axis": {"title": "Date (TU)", "titleFontSize": 14, "titlePadding": 8, "tickCount": {"interval": "month", "step": 3}, "labelFlush": false, "labelOverlap": false}
  },
  "y": {
    "field": "h", "type": "quantitative",
    "scale": {"domain": [0.046, 2.299], "nice": false, "zero": false},
    "axis": {"title": "Hauteur (en m)", "titleFontSize": 13, "values": [0.5, 1, 1.5, 2], "format": "~g", "titleX": -66, "titleY": 198, "titleBaseline": "middle", "titleAngle": 270}
  },
  "color": {
    "field": "s", "type": "nominal",
    "scale": {"domain": ["Données validées", "Données pré-validées", "Données corrigées"], "range": ["#46a874", "#529fd0", "#f7c058"]},
    "legend": {
      "orient": "none", "legendX": 404, "legendY": 513, "padding": 0,
      "title": "Statuts des données", "titleFont": "Noto Sans", "titleFontSize": 15, "titleFontWeight": "normal", "titleColor": "#444", "titlePadding": 10,
      "labelFont": "Noto Sans", "labelFontSize": 14, "labelColor": "#3a7bbf", "labelOffset": 4,
      "symbolType": "stroke", "symbolSize": 400, "symbolStrokeWidth": 2.2, "rowPadding": 4
    }
  }
}
}
